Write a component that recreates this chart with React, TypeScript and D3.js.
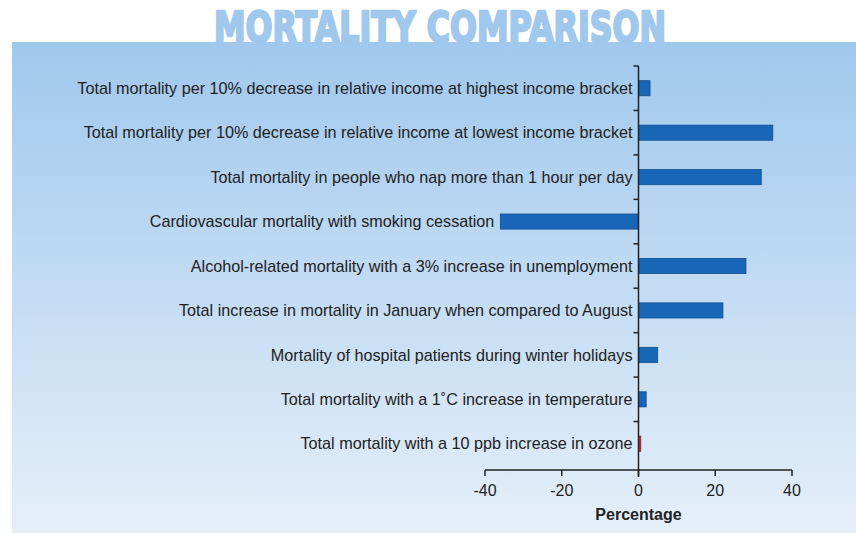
import React from 'react'
import * as d3 from 'd3'

const categories = [
  'Total mortality per 10% decrease in relative income at highest income bracket',
  'Total mortality per 10% decrease in relative income at lowest income bracket',
  'Total mortality in people who nap more than 1 hour per day',
  'Cardiovascular mortality with smoking cessation',
  'Alcohol-related mortality with a 3% increase in unemployment',
  'Total increase in mortality in January when compared to August',
  'Mortality of hospital patients during winter holidays',
  'Total mortality with a 1\u02DAC increase in temperature',
  'Total mortality with a 10 ppb increase in ozone',
]
const values = [3, 35, 32, -36, 28, 22, 5, 2, 0.6]
const highlight = [false, false, false, false, false, false, false, false, true]
const xTicks = [-40, -20, 0, 20, 40]

const W = 856
const H = 533
const font = 'Liberation Sans, Arial, sans-serif'

const App = () => {
  const x = d3.scaleLinear().domain([-40, 40]).range([485, 792])
  const y = d3.scaleBand<string>().domain(categories).range([66, 466])
  const bh = y.bandwidth() * 0.34
  const axisY = 470
  const bounds = d3.range(categories.length).map((i) => 66 + i * y.step())

  return (
    <svg width={W} height={H} style={{ position: 'absolute', left: 0, top: 0 }}>
      <defs>
        <linearGradient id="bg" x1="0" y1="0" x2="0" y2="1">
          <stop offset="0%" stopColor="#a0c8ed" />
          <stop offset="100%" stopColor="#e5eff9" />
        </linearGradient>
      </defs>
      <rect x={0} y={0} width={W} height={H} fill="#fff" />
      <rect x={12} y={42} width={W - 12} height={H - 42} fill="url(#bg)" />

      <text
        x={440}
        y={42}
        textAnchor="middle"
        fontFamily="DejaVu Sans"
        fontWeight="bold"
        fontSize={42}
        fill="#9fc8ec"
        stroke="#9fc8ec"
        strokeWidth={2.5}
        strokeLinejoin="round"
        textLength={452}
        lengthAdjust="spacingAndGlyphs"
      >
        MORTALITY COMPARISON
      </text>

      {categories.map((c, i) => {
        const v = values[i]
        const labelX = Math.min(x(0), x(v)) - 6
        return (
          <g key={c}>
            <rect
              x={x(Math.min(0, v))}
              y={(y(c) as number) + (y.bandwidth() - bh) / 2}
              width={Math.abs(x(v) - x(0))}
              height={bh}
              fill={highlight[i] ? '#c8284c' : '#1866b8'}
              stroke={highlight[i] ? '#8a1a35' : '#0e4f90'}
              strokeWidth={0.8}
            />
            <text
              x={labelX}
              y={(y(c) as number) + y.bandwidth() / 2}
              dy="0.35em"
              textAnchor="end"
              fontFamily={font}
              fontSize={16.2}
              fill="#222"
            >
              {c}
            </text>
          </g>
        )
      })}

      {/* category axis */}
      <line x1={x(0)} x2={x(0)} y1={66} y2={axisY + 7} stroke="#222" strokeWidth={1.5} />
      {bounds.map((b) => (
        <line key={b} x1={x(0) - 5} x2={x(0)} y1={b} y2={b} stroke="#222" strokeWidth={1.5} />
      ))}

      {/* value axis */}
      <line x1={x(-40)} x2={x(40)} y1={axisY} y2={axisY} stroke="#222" strokeWidth={1.5} />
      {xTicks.map((t) => (
        <g key={t}>
          <line x1={x(t)} x2={x(t)} y1={axisY} y2={axisY + 6} stroke="#222" strokeWidth={1.5} />
          <text
            x={x(t)}
            y={axisY + 20}
            dy="0.35em"
            textAnchor="middle"
            fontFamily={font}
            fontSize={16}
            fill="#222"
          >
            {t}
          </text>
        </g>
      ))}
      <text
        x={x(0)}
        y={514}
        dy="0.35em"
        textAnchor="middle"
        fontFamily={font}
        fontWeight="bold"
        fontSize={16}
        fill="#222"
      >
        Percentage
      </text>
    </svg>
  )
}

export default App
